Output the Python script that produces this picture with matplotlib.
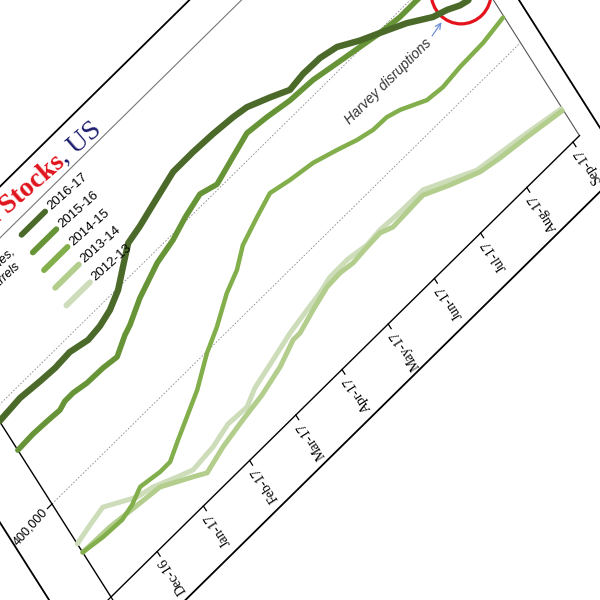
import numpy as np
import matplotlib
matplotlib.use("Agg")
import matplotlib.pyplot as plt
import matplotlib.transforms as mtransforms
from matplotlib.patches import Ellipse

# Crude Oil Stocks, US -- the reference is a tilted photo of the chart,
# so everything is drawn through one affine map (month, kbbl) -> picture pixels

# months after Dec-16 (Nov-16 = -1 ... Sep-17 = 9), stocks in thousand barrels
months_1617 = [-1.0, -0.53, -0.12, 0.19, 0.52, 0.87, 1.14, 1.41, 1.69, 2.00, 2.22, 2.52, 2.98, 3.42, 3.85,
               4.27, 4.68, 4.95, 5.34, 5.67, 5.98, 6.34, 6.66, 7.02, 7.35, 7.79, 8.19, 8.44, 8.65, 8.80, 9.12]
stocks_1617 = [489000, 491000, 489000, 488000, 489000, 485000, 486500, 490600, 498600, 513000, 523000,
               526600, 534000, 540900, 541000, 540000, 538000, 535600, 527000, 519000, 521000, 520500,
               516700, 506000, 498000, 487000, 474000, 469500, 464000, 462000, 470000]

months_1516 = [-1.0, -0.66, -0.37, -0.10, 0.04, 0.22, 0.49, 0.83, 1.11, 1.40, 1.55, 1.91, 2.44, 2.84, 3.20,
               3.59, 3.90, 4.34, 4.73, 5.13, 5.58, 6.06, 6.52, 6.97, 7.35, 7.75, 8.12, 8.60, 9.12]
stocks_1516 = [457900, 458700, 458000, 457000, 459700, 459800, 457300, 456800, 454900, 464300, 467600,
               479000, 491000, 495800, 503000, 508700, 504000, 511700, 518400, 516000, 512000, 510500,
               506000, 501700, 498000, 495500, 495600, 493000, 490000]

months_1415 = [-1.0, -0.60, -0.20, 0.06, 0.32, 0.71, 0.93, 1.22, 1.53, 1.90, 2.34, 2.69, 3.11, 3.44, 3.73,
               4.16, 4.53, 4.91, 5.36, 5.79, 6.14, 6.44, 6.73, 6.97, 7.41, 7.73, 8.13, 8.64, 9.12]
stocks_1415 = [348000, 344900, 343800, 347200, 353900, 350800, 350900, 360200, 369600, 380900, 398900,
               409600, 425600, 434300, 446900, 456300, 463700, 459300, 455600, 448500, 442100, 438300,
               437800, 433900, 422900, 421100, 423300, 424200, 428000]

months_1314 = [-1.0, -0.42, 0.18, 0.58, 1.11, 1.33, 1.76, 2.23, 2.72, 3.20, 3.60, 3.75, 4.12, 4.50, 4.79,
               5.05, 5.37, 5.66, 5.88, 6.55, 7.00, 7.51, 7.89, 8.43, 9.12]
stocks_1314 = [348000, 347000, 343300, 340900, 326000, 319500, 326300, 331100, 335300, 342100, 351500,
               351500, 358300, 364400, 365200, 363300, 364800, 365600, 361100, 362700, 351700, 340800,
               337000, 333300, 327700]

months_1213 = [-1.0, -0.67, -0.35, 0.03, 0.19, 0.49, 0.89, 1.17, 1.63, 2.02, 2.42, 2.68, 3.16, 3.62, 4.04,
               4.35, 4.62, 5.01, 5.39, 5.69, 6.04, 6.60, 7.04, 7.48, 7.93, 8.46, 9.12]
stocks_1213 = [357200, 361300, 364800, 353800, 349200, 345400, 336400, 330600, 332800, 338200, 337100,
               344500, 351300, 358000, 362200, 365000, 369000, 369200, 366100, 367600, 366400, 366000,
               355000, 344000, 340300, 335900, 329700]

month_labels = ["Nov-16", "Dec-16", "Jan-17", "Feb-17", "Mar-17", "Apr-17", "May-17",
                "Jun-17", "Jul-17", "Aug-17", "Sep-17"]
y_ticks = [300000, 400000, 500000, 600000]
season_names = ["2016-17", "2015-16", "2014-15", "2013-14", "2012-13"]
season_colors = ["#4b6a2a", "#669436", "#82af4b", "#b2cd8c", "#cddcb9"]

fig = plt.figure(figsize=(6, 6), dpi=100)
ax = fig.add_axes([0, 0, 1, 1])
ax.set_xlim(0, 600)
ax.set_ylim(600, 0)
ax.axis("off")

# tilt of the photographed sheet
tilt = (mtransforms.Affine2D().translate(1, -300000).scale(1, 1e-5)
        + mtransforms.Affine2D(np.array([[46.2, -59.0, 111.0],
                                         [-45.5, -93.0, 597.0],
                                         [0.0, 0.0, 1.0]])))
tr = tilt + ax.transData
along_x = np.degrees(np.arctan2(45.5, 46.2))
along_y = np.degrees(np.arctan2(93.0, -59.0))

x_lo, x_hi = -1.0, 9.14
y_lo, y_hi = 300000, 610000

# outer chart border
fx = [-1.85, 9.48, 9.48, -1.85, -1.85]
fy = [249500, 249500, 644000, 644000, 249500]
ax.plot(fx, fy, color="black", lw=1.3, transform=tr)

# plot area
for g in [400000, 500000]:
    ax.plot([x_lo, x_hi], [g, g], color="#8a8a8a", lw=0.6, ls=(0, (2, 2)), transform=tr)
ax.plot([x_lo, x_hi], [y_hi, y_hi], color="#777777", lw=0.8, transform=tr)
ax.plot([x_hi, x_hi], [y_lo, y_hi], color="#555555", lw=0.8, transform=tr)
ax.plot([x_lo, x_hi], [y_lo, y_lo], color="black", lw=1.0, transform=tr)
ax.plot([x_lo, x_lo], [y_lo, y_hi], color="black", lw=1.0, transform=tr)

for k, lab in enumerate(month_labels):
    m = k - 1
    ax.plot([m, m], [y_lo, y_lo - 5000], color="black", lw=0.9, transform=tr)
    ax.text(m, y_lo - 8000, lab, rotation=along_y, rotation_mode="anchor",
            ha="right", va="center", fontsize=10, family="Liberation Serif", transform=tr)

for val in y_ticks:
    ax.plot([x_lo, x_lo - 0.1], [val, val], color="black", lw=0.9, transform=tr)
    ax.text(x_lo - 0.14, val, f"{val:,}", rotation=48, rotation_mode="anchor",
            ha="right", va="center", fontsize=9, family="Liberation Sans", transform=tr)

# season lines, oldest first
series = [(months_1213, stocks_1213, season_colors[4], 3.6),
          (months_1314, stocks_1314, season_colors[3], 3.6),
          (months_1415, stocks_1415, season_colors[2], 3.2),
          (months_1516, stocks_1516, season_colors[1], 4.0),
          (months_1617, stocks_1617, season_colors[0], 4.6)]
for mm, vv, col, lw in series:
    ax.plot(mm, vv, color=col, lw=lw, solid_capstyle="round", solid_joinstyle="round", transform=tr)

# legend
for i, (name, col) in enumerate(zip(season_names, season_colors)):
    lv = 598000 - i * 19000
    ax.plot([0.87, 1.38], [lv, lv], color=col, lw=4.2, solid_capstyle="round", transform=tr)
    ax.text(1.46, lv, name, rotation=41.5, rotation_mode="anchor", ha="left", va="center",
            fontsize=9.5, family="Liberation Sans", transform=tr)

ax.text(0.63, 593000, "Commercial inventories,", rotation=43, rotation_mode="anchor",
        ha="right", va="center", fontsize=9, style="italic", family="Liberation Sans", transform=tr)
ax.text(0.57, 580000, "thousand barrels", rotation=43, rotation_mode="anchor",
        ha="right", va="center", fontsize=9, style="italic", family="Liberation Sans", transform=tr)

# title
ax.text(2.05, 616000, "Crude Oil Stocks", rotation=41, rotation_mode="anchor", ha="right",
        va="baseline", fontsize=20, fontweight="bold", color="#e0131b",
        family="Liberation Serif", transform=tr)
ax.text(2.05, 616000, ", US", rotation=41, rotation_mode="anchor", ha="left",
        va="baseline", fontsize=20, color="#1c1c6e", family="Liberation Serif", transform=tr)

# Harvey note
ax.text(6.17, 457000, "Harvey disruptions", rotation=along_x, rotation_mode="anchor",
        ha="left", va="baseline", fontsize=10, style="italic", color="#333333",
        family="Liberation Sans", transform=tr)
ax.annotate("", xy=tilt.transform((8.30, 465500)), xytext=tilt.transform((7.98, 461500)),
            arrowprops=dict(arrowstyle="->", color="#6d8fd6", lw=0.9))
ax.add_patch(Ellipse(tilt.transform((8.77, 471600)), 60, 62, fill=False,
                     ec="#e3121b", lw=2.3))

fig.savefig("out.png", dpi=100)
